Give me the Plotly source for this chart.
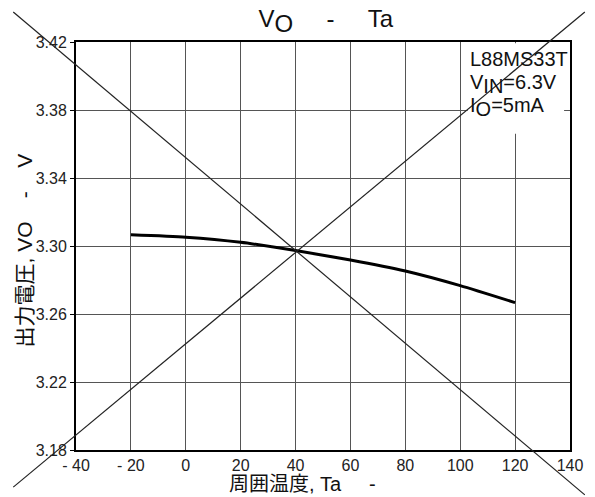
import plotly.graph_objects as go

# Output voltage vs. ambient temperature
temp_c = [-20, 0, 20, 40, 60, 80, 100, 120]
vout_v = [3.3066, 3.3052, 3.3022, 3.2973, 3.2918, 3.2853, 3.2767, 3.2667]

x_ticks = [-40, -20, 0, 20, 40, 60, 80, 100, 120, 140]
x_tick_text = ["- 40", "- 20", "0", "20", "40", "60", "80", "100", "120", "140"]
y_ticks = [3.18, 3.22, 3.26, 3.30, 3.34, 3.38, 3.42]
y_tick_text = ["3.18", "3.22", "3.26", "3.30", "3.34", "3.38", "3.42"]

FONT = "Liberation Sans, Arial, sans-serif"
MIXED = "Liberation Sans, Noto Sans CJK JP, sans-serif"
NB = "\u00a0"

fig = go.Figure()
fig.add_trace(go.Scatter(
    x=temp_c, y=vout_v, mode="lines",
    line=dict(color="black", width=3, shape="spline", smoothing=0.6),
    showlegend=False, hoverinfo="skip",
))

grid = "#555555"
fig.update_xaxes(
    range=[-40, 140], tickvals=x_ticks, ticktext=x_tick_text,
    showgrid=True, gridcolor=grid, gridwidth=1,
    showline=True, linecolor="black", linewidth=2, mirror=True,
    ticks="", tickfont=dict(family=FONT, size=16, color="#222"),
    zeroline=False,
)
fig.update_yaxes(
    range=[3.18, 3.42], tickvals=y_ticks, ticktext=y_tick_text,
    showgrid=True, gridcolor=grid, gridwidth=1,
    showline=True, linecolor="black", linewidth=2, mirror=True,
    ticks="outside", ticklen=4, tickcolor="black",
    tickfont=dict(family=FONT, size=16, color="#222"),
    zeroline=False,
)

# Condition box (white backing over the grid)
fig.add_shape(type="rect", xref="paper", yref="paper",
              x0=0.793, x1=0.988, y0=0.775, y1=0.997,
              fillcolor="white", line=dict(width=0), layer="above")

# Crossed lines spanning the whole figure
line_style = dict(color="#222", width=1.2)
fig.add_shape(type="line", xref="paper", yref="paper",
              x0=-0.127, y0=1.0735, x1=1.030, y1=-0.110,
              line=line_style, layer="above")
fig.add_shape(type="line", xref="paper", yref="paper",
              x0=-0.127, y0=-0.091, x1=1.030, y1=1.0735,
              line=line_style, layer="above")


def sub(s, size):
    return f'<sub><span style="font-size:{size}px">{s}</span></sub>'


cond_lines = ["L88MS33T", f"V{sub('IN', 20)}=6.3V", f"I{sub('O', 20)}=5mA"]
cond_y = [0.990, 0.933, 0.877]
for txt, yy in zip(cond_lines, cond_y):
    fig.add_annotation(text=txt, xref="paper", yref="paper", x=0.793, y=yy,
                       xanchor="left", yanchor="top", showarrow=False,
                       font=dict(family=FONT, size=20, color="#111"))

# Axis titles
fig.add_annotation(text=f"周囲温度, Ta{NB*5}-", xref="paper", yref="paper",
                   x=0.306, y=-0.083, xanchor="left", yanchor="middle",
                   showarrow=False, font=dict(family=MIXED, size=20, color="#111"))
fig.add_annotation(text=f"出力電圧, VO{NB*4}-{NB*4}V", xref="paper", yref="paper",
                   x=-0.104, y=0.488, xanchor="center", yanchor="middle",
                   textangle=-90, showarrow=False,
                   font=dict(family=MIXED, size=21, color="#111"))

fig.update_layout(
    width=595, height=497,
    margin=dict(l=76, r=22, t=42, b=47),
    paper_bgcolor="white", plot_bgcolor="white",
    title=dict(text=f'V{sub("O", 24)}{NB*5}-{NB*5}Ta', x=0.5475, xanchor="center",
               y=0.962, yanchor="middle", yref="container",
               font=dict(family=FONT, size=24, color="#111")),
)

fig.write_html("out.html")
